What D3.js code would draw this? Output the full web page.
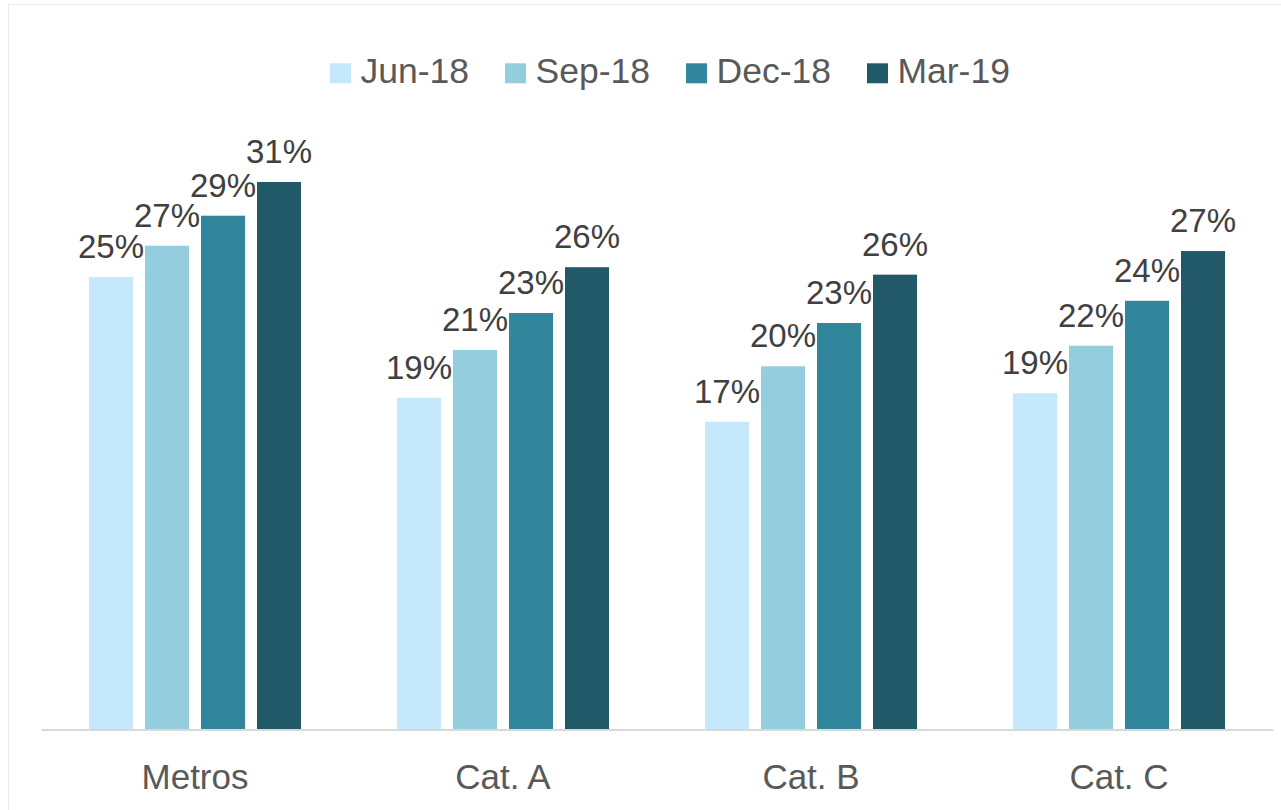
<!DOCTYPE html>
<html>
<head>
<meta charset="utf-8">
<script src="https://cdn.jsdelivr.net/npm/d3@7"></script>
<style>
  html, body { margin: 0; padding: 0; background: #ffffff; }
  svg { display: block; font-family: "Liberation Sans", Arial, Helvetica, sans-serif; }
</style>
</head>
<body>
<svg id="chart" width="1281" height="810"></svg>
<script>
// Share of respondents by segment, quarterly
const categories = ["Metros", "Cat. A", "Cat. B", "Cat. C"];
const seriesNames = ["Jun-18", "Sep-18", "Dec-18", "Mar-19"];
const jun18 = [0.2548, 0.1868, 0.1733, 0.1893];
const sep18 = [0.2724, 0.2137, 0.2045, 0.2161];
const dec18 = [0.2893, 0.2345, 0.2289, 0.2414];
const mar19 = [0.3083, 0.2603, 0.2561, 0.2694];
const seriesColors = ["#c5e9fb", "#94cddd", "#31869c", "#215968"];

const seriesValues = [jun18, sep18, dec18, mar19];
const rows = categories.map((c, i) => ({
  category: c,
  values: seriesNames.map((s, j) => ({ series: s, value: seriesValues[j][i] }))
}));

const svg = d3.select("#chart");

// outer frame
svg.append("rect")
  .attr("x", 8.5).attr("y", 4.5)
  .attr("width", 1400).attr("height", 1000)
  .attr("fill", "#ffffff")
  .attr("stroke", "#ececec")
  .attr("stroke-width", 1);

const baseline = 729.5;
const y = d3.scaleLinear().domain([0, 0.35]).range([baseline, baseline - 0.35 * 1776]);

const x0 = d3.scaleBand().domain(categories).range([41, 1273]).padding(0);
const groupWidth = 212;
const x1 = d3.scaleBand().domain(seriesNames).range([0, groupWidth]).paddingInner(12 / 56).paddingOuter(0);
const color = d3.scaleOrdinal().domain(seriesNames).range(seriesColors);
const pct = d3.format(".0%");

// bars and value labels
const groups = svg.append("g").selectAll("g.group")
  .data(rows)
  .join("g")
  .attr("class", "group")
  .attr("transform", d => `translate(${x0(d.category) + (x0.bandwidth() - groupWidth) / 2},0)`);

groups.selectAll("rect")
  .data(d => d.values)
  .join("rect")
  .attr("x", d => x1(d.series))
  .attr("y", d => y(d.value))
  .attr("width", x1.bandwidth())
  .attr("height", d => y(0) - y(d.value))
  .attr("fill", d => color(d.series));

groups.selectAll("text.value")
  .data(d => d.values)
  .join("text")
  .attr("class", "value")
  .attr("x", d => x1(d.series) + x1.bandwidth() / 2)
  .attr("y", d => y(d.value) - 19)
  .attr("text-anchor", "middle")
  .attr("font-size", 33)
  .attr("fill", "#404040")
  .text(d => pct(d.value));

// category axis
const axis = svg.append("g")
  .attr("transform", `translate(0,${baseline})`)
  .call(d3.axisBottom(x0).tickSize(0).tickSizeOuter(0));
axis.select(".domain").attr("stroke", "#d9d9d9").attr("stroke-width", 2);
axis.selectAll(".tick text")
  .attr("y", 59.5)
  .attr("dy", 0)
  .attr("font-size", 35)
  .attr("font-family", "\"Liberation Sans\", Arial, Helvetica, sans-serif")
  .attr("fill", "#595959");

// legend
const legend = svg.append("g").attr("class", "legend");
let cursor = 330;
seriesNames.forEach(name => {
  const item = legend.append("g").attr("transform", `translate(${cursor},0)`);
  item.append("rect")
    .attr("x", 0).attr("y", 63.3)
    .attr("width", 21).attr("height", 20)
    .attr("fill", color(name));
  const t = item.append("text")
    .attr("x", 30.5).attr("y", 83.3)
    .attr("font-size", 35.5)
    .attr("fill", "#595959")
    .text(name);
  cursor += 30.5 + t.node().getComputedTextLength() + 36;
});
</script>
</body>
</html>
